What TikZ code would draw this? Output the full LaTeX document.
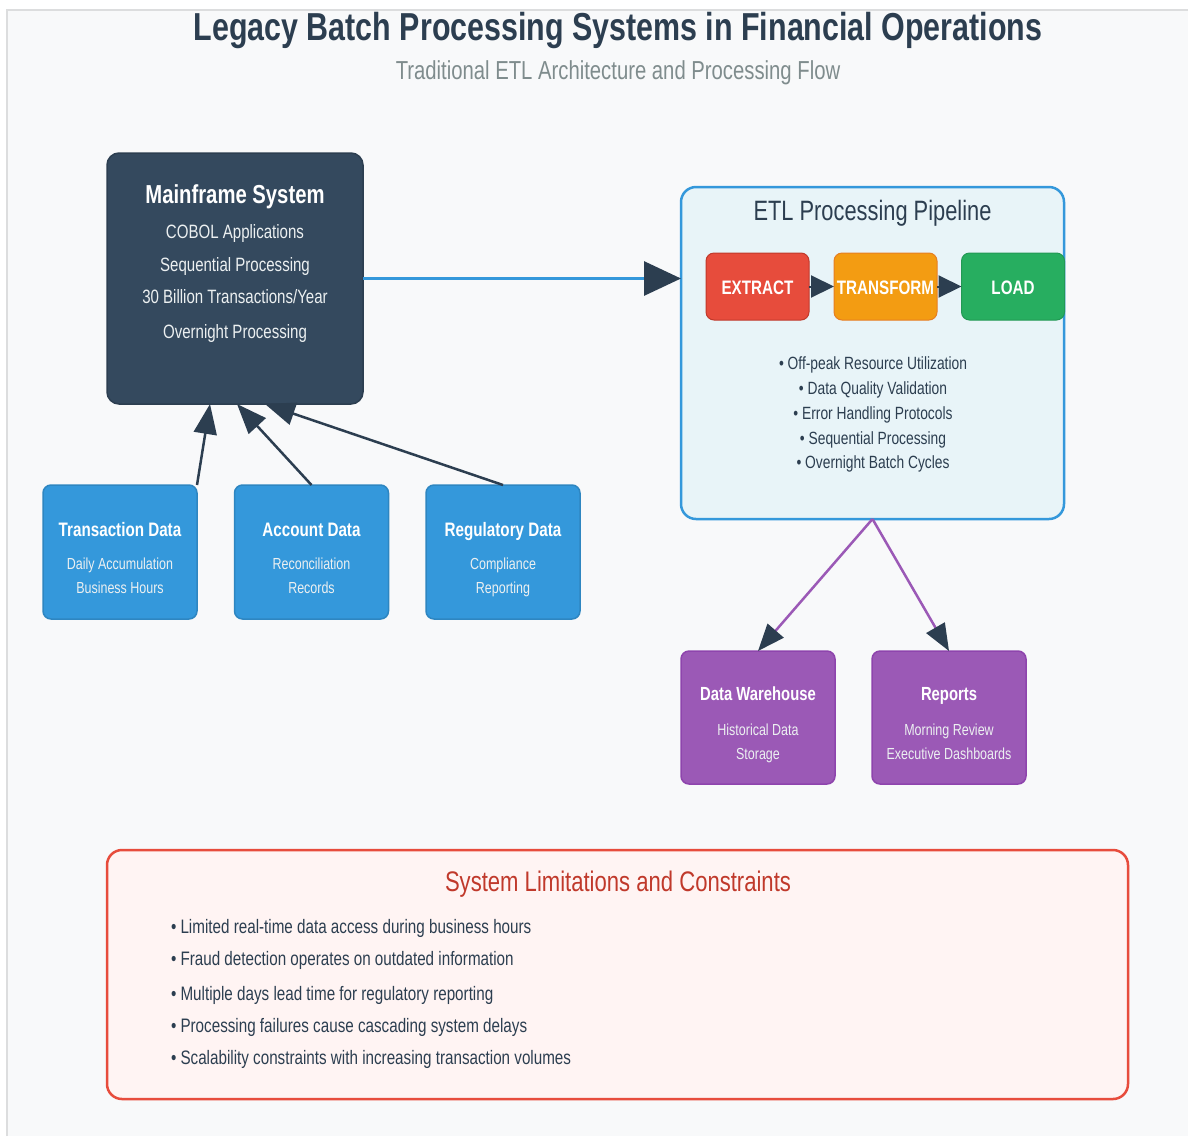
\documentclass[tikz,border=0pt]{standalone}
\usepackage{fontspec}
\setmainfont{Liberation Sans}[FakeStretch=0.78]
\usetikzlibrary{arrows.meta,calc}
\definecolor{bg}{HTML}{F8F9FA}
\definecolor{frame}{HTML}{DCDDDE}
\definecolor{dark}{HTML}{2C3E50}
\definecolor{mainfill}{HTML}{34495E}
\definecolor{lightline}{HTML}{ECF0F1}
\definecolor{subgray}{HTML}{7F8C8D}
\definecolor{etlfill}{HTML}{E8F4F8}
\definecolor{blue}{HTML}{3498DB}
\definecolor{bluedk}{HTML}{2E86C1}
\definecolor{red}{HTML}{E74C3C}
\definecolor{reddk}{HTML}{C0392B}
\definecolor{orange}{HTML}{F39C12}
\definecolor{orangedk}{HTML}{E67E22}
\definecolor{green}{HTML}{27AE60}
\definecolor{greendk}{HTML}{229954}
\definecolor{purple}{HTML}{9B59B6}
\definecolor{purpledk}{HTML}{8E44AD}
\definecolor{limfill}{HTML}{FFF4F3}
\begin{document}
\begin{tikzpicture}[x=1pt,y=-1pt,
  box/.style={rectangle, inner sep=0pt, outer sep=0pt},
  txt/.style={inner sep=0pt, outer sep=0pt, anchor=base},
  ltxt/.style={inner sep=0pt, outer sep=0pt, anchor=base west},
  fs/.style={font=\fontsize{#1}{#1}\selectfont},
  fsb/.style={font=\fontsize{#1}{#1}\selectfont\bfseries},
  srcbox/.style={box, fill=blue, draw=bluedk, line width=1.5pt, rounded corners=8pt, minimum width=154pt, minimum height=134pt},
  outbox/.style={box, fill=purple, draw=purpledk, line width=1.5pt, rounded corners=8pt, minimum width=154pt, minimum height=133pt},
  stagebox/.style={box, rounded corners=8pt, line width=1pt, minimum width=103pt, minimum height=67pt},
  bigarrow/.style={-{Triangle[length=37pt,width=34pt,color=dark,fill=dark]}},
  srcarrow/.style={draw=dark, line width=2.5pt, -{Triangle[length=30pt,width=23pt,color=dark,fill=dark]}},
  outarrow/.style={draw=purple, line width=2.5pt, -{Triangle[length=27pt,width=21pt,color=dark,fill=dark]}},
  stagearrow/.style={draw=dark, line width=2pt, -{Triangle[length=23pt,width=22pt,color=dark,fill=dark]}}
]
% canvas
\useasboundingbox (0,0) rectangle (1188,1136);
\fill[white] (0,0) rectangle (1188,1136);
\fill[bg] (7,10) rectangle (1188,1136);
\draw[frame, line width=2.5pt] (7,1136) -- (7,10) -- (1188,10);

% titles
\node[txt, fsb=39, text=dark] (title) at (618,40) {Legacy Batch Processing Systems in Financial Operations};
\node[txt, fs=26, text=subgray] (subtitle) at (618,79) {Traditional ETL Architecture and Processing Flow};

% mainframe
\node[box, fill=mainfill, draw=dark, line width=1.5pt, rounded corners=12pt, minimum width=256pt, minimum height=251pt] (main) at (235,278.5) {};
\node[txt, fsb=26, text=white] (mainT) at (235,203) {Mainframe System};
\node[txt, fs=19.3, text=lightline] (mainL1) at (235,238) {COBOL Applications};
\node[txt, fs=19.3, text=lightline] (mainL2) at (235,271) {Sequential Processing};
\node[txt, fs=19.3, text=lightline] (mainL3) at (235,303) {30 Billion Transactions/Year};
\node[txt, fs=19.3, text=lightline] (mainL4) at (235,338) {Overnight Processing};

% ETL pipeline
\node[box, fill=etlfill, draw=blue, line width=2.5pt, rounded corners=15pt, minimum width=383pt, minimum height=332pt] (etl) at (872.5,353) {};
\node[txt, fs=28, text=dark] (etlT) at (872.5,220) {ETL Processing Pipeline};
\node[stagebox, fill=red, draw=reddk] (ext) at (757.5,286.5) {};
\node[stagebox, fill=orange, draw=orangedk] (tra) at (885.5,286.5) {};
\node[stagebox, fill=green, draw=greendk] (load) at (1013,286.5) {};
\node[txt, fsb=19.5, text=white] (extT) at (757.5,294) {EXTRACT};
\node[txt, fsb=19.5, text=white] (traT) at (885.5,294) {TRANSFORM};
\node[txt, fsb=19.5, text=white] (loadT) at (1013,294) {LOAD};
\draw[stagearrow] (ext.east) -- (tra.west);
\draw[stagearrow] (tra.east) -- (load.west);
\node[txt, fs=17.7, text=dark] (etlB1) at (873,369) {• Off-peak Resource Utilization};
\node[txt, fs=17.7, text=dark] (etlB2) at (873,394) {• Data Quality Validation};
\node[txt, fs=17.7, text=dark] (etlB3) at (873,419) {• Error Handling Protocols};
\node[txt, fs=17.7, text=dark] (etlB4) at (873,444) {• Sequential Processing};
\node[txt, fs=17.7, text=dark] (etlB5) at (873,468) {• Overnight Batch Cycles};

% main -> ETL
\draw[blue, line width=3pt, bigarrow] (main.east) -- (main.east -| etl.west);

% sources
\node[srcbox] (tx) at (120,552) {};
\node[srcbox] (acc) at (311.5,552) {};
\node[srcbox] (reg) at (503,552) {};
\node[txt, fsb=19.5, text=white] (txT) at (120,536) {Transaction Data};
\node[txt, fs=16, text=lightline] (txL1) at (120,569) {Daily Accumulation};
\node[txt, fs=16, text=lightline] (txL2) at (120,593) {Business Hours};
\node[txt, fsb=19.5, text=white] (accT) at (311.5,536) {Account Data};
\node[txt, fs=16, text=lightline] (accL1) at (311.5,569) {Reconciliation};
\node[txt, fs=16, text=lightline] (accL2) at (311.5,593) {Records};
\node[txt, fsb=19.5, text=white] (regT) at (503,536) {Regulatory Data};
\node[txt, fs=16, text=lightline] (regL1) at (503,569) {Compliance};
\node[txt, fs=16, text=lightline] (regL2) at (503,593) {Reporting};
\draw[srcarrow] (tx.north east) -- ([xshift=103pt]main.south west);
\draw[srcarrow] (acc.north) -- ([xshift=130pt]main.south west);
\draw[srcarrow] (reg.north) -- ([xshift=158pt]main.south west);

% outputs
\node[outbox] (dw) at (758,717.5) {};
\node[outbox] (rep) at (949,717.5) {};
\node[txt, fsb=19, text=white] (dwT) at (758,700) {Data Warehouse};
\node[txt, fs=16, text=lightline] (dwL1) at (758,735) {Historical Data};
\node[txt, fs=16, text=lightline] (dwL2) at (758,759) {Storage};
\node[txt, fsb=19, text=white] (repT) at (949,700) {Reports};
\node[txt, fs=16, text=lightline] (repL1) at (949,735) {Morning Review};
\node[txt, fs=16, text=lightline] (repL2) at (949,759) {Executive Dashboards};
\draw[outarrow] (etl.south) -- (dw.north);
\draw[outarrow] (etl.south) -- (rep.north);

% limitations
\node[box, fill=limfill, draw=red, line width=2.5pt, rounded corners=15pt, minimum width=1021pt, minimum height=249pt] (lim) at (617.5,974.5) {};
\node[txt, fs=28.3, text=reddk] (limT) at (618,891) {System Limitations and Constraints};
\node[ltxt, fs=19.5, text=dark] (limB1) at (171,933) {• Limited real-time data access during business hours};
\node[ltxt, fs=19.5, text=dark] (limB2) at (171,965) {• Fraud detection operates on outdated information};
\node[ltxt, fs=19.5, text=dark] (limB3) at (171,1000) {• Multiple days lead time for regulatory reporting};
\node[ltxt, fs=19.5, text=dark] (limB4) at (171,1032) {• Processing failures cause cascading system delays};
\node[ltxt, fs=19.5, text=dark] (limB5) at (171,1064) {• Scalability constraints with increasing transaction volumes};
\end{tikzpicture}
\end{document}
